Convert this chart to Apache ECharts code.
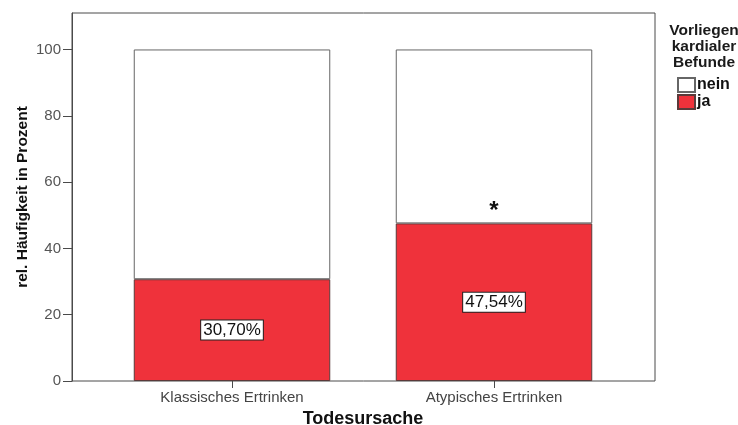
<!DOCTYPE html>
<html><head><meta charset="utf-8">
<script src="https://cdn.jsdelivr.net/npm/echarts@6/dist/echarts.min.js"></script>
<style>html,body{margin:0;padding:0;background:#fff}#c{width:738px;height:425px}</style>
</head><body><div id="c"></div>
<script>
const categories = ['Klassisches Ertrinken', 'Atypisches Ertrinken'];
const jaValues = [30.70, 47.54];
const neinValues = [69.30, 52.46];
const jaLabels = ['30,70%', '47,54%'];
const sigMarks = ['', '*'];
const yTicks = [0, 20, 40, 60, 80, 100];

const font = '"Liberation Sans", Arial, sans-serif';
const chart = echarts.init(document.getElementById('c'));
chart.setOption({
  animation: false,
  textStyle: { fontFamily: font },
  grid: [
    { left: 72, right: 83, top: 13, bottom: 44, show: true, borderColor: '#4a4a4a', borderWidth: 1, containLabel: false, outerBoundsMode: 'none' },
    { left: 101, right: 113, top: 13, bottom: 44, containLabel: false, outerBoundsMode: 'none' }
  ],
  legend: {
    orient: 'vertical', left: 672, top: 72, itemGap: 1,
    itemWidth: 17, itemHeight: 14, icon: 'rect',
    textStyle: { fontSize: 16, fontWeight: 'bold', color: '#111', fontFamily: font, padding: [0,0,0,-3] },
    data: ['nein', 'ja']
  },
  title: {
    text: 'Vorliegen\nkardialer\nBefunde', left: 699, top: 18, textAlign: 'center',
    textStyle: { fontSize: 15.5, fontWeight: 'bold', color: '#1a1a1a', lineHeight: 16, fontFamily: font }
  },
  xAxis: [
    { gridIndex: 0, type: 'value', show: false, min: 0, max: 1 },
    { gridIndex: 1, type: 'category', data: categories,
      axisLine: { show: false },
      axisTick: { show: true, alignWithLabel: true, length: 7, lineStyle: { color: '#4a4a4a' } },
      axisLabel: { fontSize: 15, color: '#444', margin: 9, fontFamily: font },
      name: 'Todesursache', nameLocation: 'middle', nameGap: 28,
      nameTextStyle: { fontSize: 18, fontWeight: 'bold', color: '#111', fontFamily: font }
    }
  ],
  yAxis: [
    { gridIndex: 0, type: 'value', min: 0, max: 111, interval: 20,
      axisLine: { show: true, lineStyle: { color: '#4a4a4a' } },
      axisTick: { show: true, length: 9, lineStyle: { color: '#4a4a4a' } },
      splitLine: { show: false },
      axisLabel: { showMaxLabel: false, fontSize: 15, color: '#555', margin: 11, fontFamily: font,
        formatter: v => yTicks.includes(v) ? String(v) : '' },
      name: 'rel. Häufigkeit in Prozent', nameLocation: 'middle', nameGap: 41, nameRotate: 90,
      nameMoveOverlap: false,
      nameTextStyle: { fontSize: 15.5, fontWeight: 'bold', color: '#111', fontFamily: font }
    },
    { gridIndex: 1, type: 'value', min: 0, max: 111, show: false, splitLine: { show: false } }
  ],
  series: [
    { name: 'ja', type: 'bar', stack: 's', xAxisIndex: 1, yAxisIndex: 1, data: jaValues,
      barCategoryGap: '25%',
      itemStyle: { color: '#EF323B', borderColor: '#5a3a3a', borderWidth: 1 },
      label: { show: true, position: 'inside', formatter: p => jaLabels[p.dataIndex],
        color: '#111', fontSize: 17, fontFamily: font, backgroundColor: '#fff',
        borderColor: '#222', borderWidth: 1, padding: [2, 2, 0, 2] }
    },
    { name: 'nein', type: 'bar', stack: 's', xAxisIndex: 1, yAxisIndex: 1, data: neinValues,
      itemStyle: { color: '#ffffff', borderColor: '#666', borderWidth: 1 },
      label: { show: true, position: 'insideBottom', distance: 0, formatter: p => sigMarks[p.dataIndex],
        color: '#111', fontSize: 24, fontWeight: 'bold', fontFamily: font }
    }
  ]
});
</script></body></html>
